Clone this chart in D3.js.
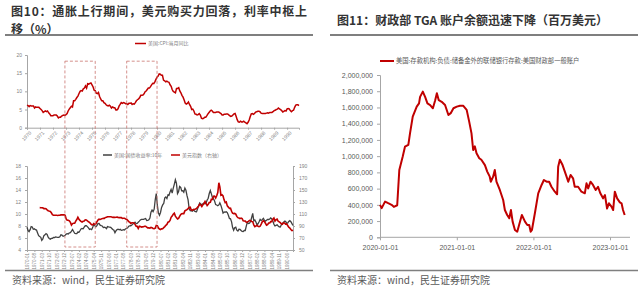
<!DOCTYPE html>
<html>
<head>
<meta charset="utf-8">
<script src="https://cdn.jsdelivr.net/npm/d3@7"></script>
<style>
body { margin: 0; background: #fff; }
svg { display: block; font-family: "Noto Sans CJK SC", "Noto Sans", sans-serif; }
</style>
</head>
<body>
<svg width="640" height="290"></svg>
<script>
/* 图10 上：美国 CPI 当月同比（月度，1970-01 起） */
const cpiStart = "1970-01";
const cpiYoy = [
  6.2,6.1,5.8,6.1,6.0,6.0,6.0,5.4,5.7,5.6,5.6,5.6,
  5.3,5.0,4.7,4.2,4.4,4.6,4.4,4.6,4.1,3.8,3.3,3.3,
  3.3,3.5,3.5,3.5,3.2,2.7,2.9,2.9,3.2,3.4,3.5,3.4,
  3.6,3.9,4.6,5.1,5.5,5.9,5.7,7.4,7.4,7.8,8.3,8.7,
  9.4,10.0,10.2,10.1,10.7,10.9,11.5,10.9,12.1,12.0,12.2,12.3,
  11.8,11.2,10.3,10.2,9.5,9.4,9.7,8.6,7.9,7.4,7.4,6.9,
  6.7,6.3,6.1,6.0,6.2,5.9,5.4,5.7,5.5,5.5,4.9,4.9,
  5.2,6.0,6.4,6.9,6.7,6.9,6.8,6.6,6.6,6.4,6.7,6.7,
  6.8,6.4,6.6,6.5,6.9,7.4,7.7,7.9,8.3,8.9,8.9,9.0,
  9.3,9.9,10.1,10.5,10.9,10.9,11.3,11.8,12.2,12.1,12.6,13.3,
  13.9,14.2,14.8,14.7,14.4,14.4,13.1,12.9,12.6,12.8,12.6,12.5,
  11.8,11.4,10.5,10.0,9.8,9.6,10.8,10.8,11.0,10.1,9.6,8.9,
  8.4,7.6,6.8,6.5,6.7,7.1,6.4,5.9,5.0,5.1,4.6,3.8,
  3.7,3.5,3.6,3.9,3.5,2.6,2.5,2.6,2.9,2.9,3.3,3.8,
  4.2,4.6,4.8,4.6,4.2,4.2,4.2,4.3,4.3,4.3,4.1,3.9,
  3.5,3.5,3.7,3.7,3.8,3.8,3.6,3.3,3.1,3.2,3.5,3.8,
  3.9,3.1,2.2,1.6,1.5,1.8,1.6,1.6,1.8,1.5,1.3,1.1,
  1.5,2.1,3.0,3.8,3.9,3.7,3.9,4.3,4.4,4.5,4.5,4.4,
  4.0,3.9,3.9,3.9,3.9,4.0,4.1,4.0,4.2,4.2,4.2,4.4,
  4.7,4.8,5.0,5.1,5.4,5.2,5.0,4.7,4.3,4.5,4.7,4.6,
  5.2,5.3,5.2,4.7,4.4,4.7,4.8,5.6,6.2,6.3,6.3,6.1
];

/* 图10 下：美国国债收益率 10年（月度，1970-01 起） */
const ustStart = "1970-01";
const ust10y = [
  7.79,7.24,7.07,7.39,7.91,7.84,7.46,7.53,7.39,7.33,6.84,6.39,
  6.24,6.11,5.60,5.83,6.39,6.52,6.73,6.58,6.14,5.93,5.81,5.93,
  5.95,6.08,6.07,6.19,6.13,6.11,6.11,6.21,6.55,6.48,6.28,6.36,
  6.46,6.64,6.71,6.67,6.85,6.90,7.13,7.40,7.09,6.79,6.73,6.74,
  6.99,6.96,7.21,7.51,7.58,7.54,7.81,8.04,8.04,7.90,7.68,7.43,
  7.50,7.39,7.73,8.23,8.06,7.86,8.06,8.40,8.43,8.14,8.05,8.00,
  7.74,7.79,7.73,7.56,7.90,7.86,7.83,7.77,7.59,7.41,7.29,6.87,
  7.21,7.39,7.46,7.37,7.46,7.28,7.33,7.40,7.34,7.52,7.58,7.69,
  7.96,8.03,8.04,8.15,8.35,8.46,8.64,8.41,8.42,8.64,8.81,9.01,
  9.10,9.10,9.12,9.18,9.25,8.91,8.95,9.03,9.33,10.30,10.65,10.39,
  10.80,12.41,13.40,11.47,10.18,9.78,10.25,11.10,11.51,11.75,12.68,12.84,
  12.57,13.19,13.12,13.68,14.10,13.47,14.28,14.94,15.70,15.15,13.39,13.72,
  14.59,14.43,13.86,13.87,13.62,14.30,13.95,13.06,12.34,10.91,10.55,10.54,
  10.46,10.72,10.51,10.40,10.38,10.85,11.38,11.85,11.65,11.54,11.69,11.83,
  11.67,11.84,12.32,12.63,13.41,13.90,13.36,12.72,12.52,12.16,11.57,11.50,
  11.38,11.51,11.86,11.43,10.85,10.16,10.31,10.33,10.37,10.24,9.78,9.26,
  9.19,8.70,7.78,7.30,7.71,7.80,7.30,7.17,7.45,7.43,7.25,7.11,
  7.08,7.25,7.25,8.02,8.61,8.40,8.45,8.76,9.42,10.10,8.86,8.99,
  8.67,8.21,8.37,8.72,9.09,8.92,9.06,9.26,8.98,8.80,8.96,9.11,
  9.09,9.17,9.36,9.18,8.86,8.28,8.02,8.11,8.19,8.01,7.87,7.84,
  8.21,8.47,8.59,8.79,8.76,8.48,8.47,8.75,8.89,8.72,8.39,8.08
];

/* 图10 下：美元指数（右轴，月度，1971-01 起） */
const dxyStart = "1971-01";
const dxy = [
  120.6,120.5,120.3,120.2,119.0,118.9,118.7,117.0,115.5,114.8,114.1,112.0,
  108.8,108.0,107.9,107.9,107.8,107.6,107.8,108.0,108.5,108.6,108.6,108.7,
  107.7,101.5,99.6,99.6,98.5,96.0,91.5,94.0,94.5,94.5,98.2,100.7,
  104.5,101.3,99.4,97.6,96.5,97.8,98.3,100.4,100.1,98.7,97.0,96.1,
  94.0,92.0,91.8,94.0,93.0,93.5,97.0,100.0,101.3,100.9,101.5,102.3,
  103.0,102.8,104.3,104.5,105.5,105.3,105.4,105.4,105.0,104.3,104.7,104.2,
  104.5,104.8,104.4,104.0,104.1,104.0,102.7,103.0,103.0,101.8,101.2,99.4,
  97.3,96.4,94.3,95.3,95.5,95.2,92.8,89.6,89.4,86.0,89.5,89.0,
  88.2,88.6,88.7,89.5,89.6,88.3,86.8,86.8,86.4,87.7,87.3,85.9,
  85.5,86.5,91.0,90.5,86.8,85.0,84.2,85.2,85.5,87.2,89.0,91.2,
  92.6,96.3,97.0,99.2,104.5,106.5,109.5,111.3,106.5,104.0,101.6,102.7,
  106.2,109.0,110.5,110.6,110.6,115.2,116.4,117.2,119.0,121.0,121.4,116.5,
  116.4,117.3,117.5,118.2,119.0,121.3,123.4,126.5,125.0,122.5,125.2,127.5,
  131.0,127.5,124.1,126.3,129.1,129.5,134.6,134.3,139.5,139.7,136.6,140.4,
  145.7,162.0,155.0,141.3,142.2,140.1,133.6,128.9,130.0,123.5,121.5,119.3,
  119.6,114.5,111.3,110.6,111.0,109.8,106.0,103.9,103.3,102.3,103.2,102.4,
  98.7,98.3,98.2,96.1,96.7,97.8,99.4,98.8,97.5,97.3,91.9,88.9,
  89.9,91.3,89.6,88.9,89.6,93.2,97.0,98.6,97.4,94.6,91.4,92.2,
  95.0,95.2,97.5,97.3,101.4,103.4,98.3,100.5,101.5,97.9,97.0,95.5,
  93.8,93.0,95.3,95.1,93.2,93.5,90.8,87.9,86.7,84.1,82.5,83.1
];

/* 虚线框标出的两段通胀上行期 */
const upPeriods = [["1972-12", "1975-04"], ["1977-09", "1980-01"]];

/* 图10 刻度 */
const topYearLabels = ["1970","1971","1972","1973","1974","1975","1976","1977","1978","1979",
  "1980","1981","1982","1983","1984","1985","1986","1987","1988","1989","1990"];
const topYTicks = [0, 5, 10, 15, 20];
const bottomMonthLabels = ["1970-01","1970-08","1971-03","1971-10","1972-05","1972-12","1973-07",
  "1974-02","1974-09","1975-04","1975-11","1976-06","1977-01","1977-08","1978-03","1978-10",
  "1979-05","1979-12","1980-07","1981-02","1981-09","1982-04","1982-11","1983-06","1984-01",
  "1984-08","1985-03","1985-10","1986-05","1986-12","1987-07","1988-02","1988-09","1989-04",
  "1989-11","1990-06"];
const leftYTicks = [4, 6, 8, 10, 12, 14, 16, 18];
const rightYTicks = [50, 70, 90, 110, 130, 150, 170, 190];

/* 图11：TGA 账户余额（百万美元） */
const tgaDates = [
  "2020-01-01","2020-01-09","2020-01-25","2020-02-09","2020-02-25","2020-03-07","2020-03-23",
  "2020-04-02","2020-04-18","2020-04-29","2020-05-15","2020-05-23","2020-06-05","2020-06-24",
  "2020-07-05","2020-07-10","2020-07-23","2020-08-03","2020-08-14","2020-08-27","2020-09-09",
  "2020-09-20","2020-09-28","2020-10-07","2020-10-21","2020-11-06","2020-11-22","2020-12-03",
  "2020-12-16","2021-01-01","2021-01-16","2021-02-01","2021-02-17","2021-03-01","2021-03-12",
  "2021-03-20","2021-03-28","2021-04-05","2021-04-18","2021-04-28","2021-05-15","2021-05-26",
  "2021-06-07","2021-06-12","2021-06-23","2021-07-01","2021-07-09","2021-07-25","2021-08-10",
  "2021-08-18","2021-08-29","2021-09-08","2021-09-16","2021-09-24","2021-10-05","2021-10-16",
  "2021-10-29","2021-11-07","2021-11-22","2021-12-03","2021-12-12","2021-12-19","2021-12-25",
  "2022-01-08","2022-01-24","2022-02-09","2022-02-20","2022-03-05","2022-03-17","2022-03-28",
  "2022-04-13","2022-04-24","2022-04-29","2022-05-07","2022-05-20","2022-06-08","2022-06-16",
  "2022-06-27","2022-07-09","2022-07-17","2022-08-02","2022-08-18","2022-09-03","2022-09-11",
  "2022-09-19","2022-09-30","2022-10-12","2022-10-25","2022-11-05","2022-11-16","2022-11-29",
  "2022-12-08","2022-12-18","2022-12-27","2023-01-08","2023-01-16","2023-01-24","2023-02-04",
  "2023-02-17","2023-02-25","2023-03-04","2023-03-12"
];
const tgaValues = [
  400000,360000,440000,420000,400000,375000,395000,
  830000,993000,1117000,1140000,1280000,1486000,1610000,
  1650000,1730000,1795000,1730000,1650000,1630000,1590000,
  1690000,1775000,1690000,1670000,1630000,1507000,1530000,
  1590000,1610000,1620000,1620000,1570000,1425000,1280000,
  1076000,1120000,1035000,975000,955000,890000,810000,
  747000,685000,747000,830000,685000,583000,460000,
  336000,275000,234000,336000,193000,90000,69000,
  193000,275000,193000,152000,152000,69000,90000,
  296000,542000,645000,706000,685000,685000,623000,
  562000,530000,870000,955000,890000,747000,685000,
  768000,727000,623000,623000,562000,542000,665000,
  603000,685000,645000,583000,623000,542000,480000,
  520000,355000,419000,378000,336000,562000,480000,
  430000,419000,336000,275000
];
const tgaYTicks = [0,200000,400000,600000,800000,1000000,1200000,1400000,1600000,1800000,2000000];
const tgaXLabels = ["2020-01-01","2021-01-01","2022-01-01","2023-01-01"];

const red = "#c00000";
const darkGray = "#404040";
const labelGray = "#7f7f7f";

const svg = d3.select("svg");
const parseMonth = d3.timeParse("%Y-%m");
const parseDay = d3.timeParse("%Y-%m-%d");
const parseYear = d3.timeParse("%Y");

function monthly(start, values) {
  const s = parseMonth(start);
  return values.map((v, i) => ({ date: d3.timeMonth.offset(s, i), value: v }));
}

function styleAxis(g, size, color) {
  g.select(".domain").attr("stroke", "#a6a6a6");
  g.selectAll(".tick line").attr("stroke", "#a6a6a6");
  g.selectAll(".tick text").attr("fill", color).style("font-size", size + "px")
    .style("font-family", "Arial, 'Liberation Sans', sans-serif");
}

/* ---------- titles, rules, footers ---------- */
svg.append("text").attr("x", 11).attr("y", 16)
  .attr("fill", "#333").style("font-size", "12px").style("font-weight", "bold")
  .attr("textLength", 296).attr("lengthAdjust", "spacing")
  .text("图10：通胀上行期间，美元购买力回落，利率中枢上");
svg.append("text").attr("x", 11).attr("y", 33.6)
  .attr("fill", "#333").style("font-size", "12px").style("font-weight", "bold")
  .text("移（%）");

svg.append("text").attr("x", 337).attr("y", 25)
  .attr("fill", "#333").style("font-size", "12px").style("font-weight", "bold")
  .text("图11：财政部 TGA 账户余额迅速下降（百万美元）");

[[5, 313], [330, 638]].forEach(function(seg) {
  svg.append("line").attr("x1", seg[0]).attr("x2", seg[1]).attr("y1", 35).attr("y2", 35)
    .attr("stroke", "#7f7f7f").attr("stroke-width", 2);
  svg.append("line").attr("x1", seg[0]).attr("x2", seg[1]).attr("y1", 270.5).attr("y2", 270.5)
    .attr("stroke", "#7f7f7f").attr("stroke-width", 1.5);
});
svg.append("text").attr("x", 12).attr("y", 284).attr("fill", "#595959")
  .style("font-size", "10px").text("资料来源：wind，民生证券研究院");
svg.append("text").attr("x", 337).attr("y", 284).attr("fill", "#595959")
  .style("font-size", "10px").text("资料来源：wind，民生证券研究院");

/* ---------- 图10 上：CPI ---------- */
const cpiData = monthly(cpiStart, cpiYoy);
const xTop = d3.scaleTime().domain([parseMonth("1970-01"), parseMonth("1990-12")]).range([27, 299]);
const yTop = d3.scaleLinear().domain([0, 20]).range([127.7, 55]);

svg.append("g").attr("transform", "translate(27,0)")
  .call(d3.axisLeft(yTop).tickValues(topYTicks).tickSize(2).tickPadding(3))
  .call(g => styleAxis(g, 5, labelGray));

svg.append("g").attr("transform", "translate(0,127.7)")
  .call(d3.axisBottom(xTop).tickValues(topYearLabels.map(parseYear)).tickSize(2)
    .tickFormat(d3.timeFormat("%Y")))
  .call(g => styleAxis(g, 5, labelGray))
  .call(g => g.selectAll(".tick text").attr("text-anchor", "end")
    .attr("transform", "rotate(-45)").attr("dx", "-1").attr("dy", "4").attr("y", 3));

svg.append("path").datum(cpiData)
  .attr("fill", "none").attr("stroke", red).attr("stroke-width", 1.5)
  .attr("d", d3.line().x(d => xTop(d.date)).y(d => yTop(d.value)));

svg.append("line").attr("x1", 135).attr("x2", 146).attr("y1", 43.5).attr("y2", 43.5)
  .attr("stroke", red).attr("stroke-width", 1.5);
svg.append("text").attr("x", 148).attr("y", 45.3).attr("fill", labelGray)
  .style("font-size", "5px").text("美国:CPI:当月同比");

/* ---------- 图10 下：10Y & 美元指数 ---------- */
const ustData = monthly(ustStart, ust10y);
const dxyData = monthly(dxyStart, dxy);
const xBot = d3.scaleTime().domain([parseMonth("1970-01"), parseMonth("1990-12")]).range([27, 293]);
const yLeft = d3.scaleLinear().domain([4, 18]).range([250, 166]);
const yRight = d3.scaleLinear().domain([50, 190]).range([250, 166]);

svg.append("g").attr("transform", "translate(27,0)")
  .call(d3.axisLeft(yLeft).tickValues(leftYTicks).tickSize(2).tickPadding(4))
  .call(g => styleAxis(g, 5, labelGray));
svg.append("g").attr("transform", "translate(293,0)")
  .call(d3.axisRight(yRight).tickValues(rightYTicks).tickSize(2).tickPadding(4))
  .call(g => styleAxis(g, 5, labelGray));
svg.append("g").attr("transform", "translate(0,250)")
  .call(d3.axisBottom(xBot).tickValues(bottomMonthLabels.map(parseMonth)).tickSize(2)
    .tickFormat(d3.timeFormat("%Y-%m")))
  .call(g => styleAxis(g, 4.5, labelGray))
  .call(g => g.selectAll(".tick text").attr("text-anchor", "end")
    .attr("transform", "rotate(-90)").attr("x", -3).attr("y", 0).attr("dy", "0.35em"));

svg.append("path").datum(ustData)
  .attr("fill", "none").attr("stroke", darkGray).attr("stroke-width", 1.3)
  .attr("d", d3.line().x(d => xBot(d.date)).y(d => yLeft(d.value)));
svg.append("path").datum(dxyData)
  .attr("fill", "none").attr("stroke", red).attr("stroke-width", 1.6)
  .attr("d", d3.line().x(d => xBot(d.date)).y(d => yRight(d.value)));

svg.append("line").attr("x1", 103).attr("x2", 112).attr("y1", 155).attr("y2", 155)
  .attr("stroke", darkGray).attr("stroke-width", 1.5);
svg.append("text").attr("x", 114).attr("y", 156.8).attr("fill", labelGray)
  .style("font-size", "5px").text("美国:国债收益率:10年");
svg.append("line").attr("x1", 171).attr("x2", 180).attr("y1", 155).attr("y2", 155)
  .attr("stroke", red).attr("stroke-width", 1.5);
svg.append("text").attr("x", 182).attr("y", 156.8).attr("fill", labelGray)
  .style("font-size", "5px").text("美元指数（右轴）");

/* 通胀上行期虚线框 */
svg.selectAll(".period").data(upPeriods).enter().append("rect")
  .attr("class", "period")
  .attr("x", d => xTop(parseMonth(d[0])))
  .attr("width", d => xTop(parseMonth(d[1])) - xTop(parseMonth(d[0])))
  .attr("y", yTop(18.3))
  .attr("height", yLeft(4.5) - yTop(18.3))
  .attr("fill", "none").attr("stroke", "#c9736f").attr("stroke-width", 0.8)
  .attr("stroke-dasharray", "3,2");

/* ---------- 图11：TGA ---------- */
const tgaData = tgaDates.map((d, i) => ({ date: parseDay(d), value: tgaValues[i] }));
const xTga = d3.scaleTime().domain([parseDay("2020-01-01"), parseDay("2023-01-01")]).range([380, 610]);
const yTga = d3.scaleLinear().domain([0, 2000000]).range([237.3, 75]);

svg.append("g").attr("transform", "translate(380,0)")
  .call(d3.axisLeft(yTga).tickValues(tgaYTicks).tickSize(3).tickPadding(4).tickFormat(d3.format(",")))
  .call(g => styleAxis(g, 7, "#595959"));
svg.append("g").attr("transform", "translate(0,237.3)")
  .call(d3.axisBottom(xTga).tickValues(tgaXLabels.map(parseDay)).tickSize(3).tickPadding(5)
    .tickFormat(d3.timeFormat("%Y-%m-%d")))
  .call(g => styleAxis(g, 7, "#595959"))
  .call(g => g.select(".domain").attr("d", "M380,0H630"));

svg.append("path").datum(tgaData)
  .attr("fill", "none").attr("stroke", red).attr("stroke-width", 2)
  .attr("stroke-linejoin", "round")
  .attr("d", d3.line().x(d => xTga(d.date)).y(d => yTga(d.value)));

svg.append("line").attr("x1", 380).attr("x2", 394).attr("y1", 61).attr("y2", 61)
  .attr("stroke", red).attr("stroke-width", 2);
svg.append("text").attr("x", 396).attr("y", 63.3).attr("fill", "#595959")
  .style("font-size", "6.3px").text("美国:存款机构:负债:储备金外的联储银行存款:美国财政部一般账户");
</script>
</body>
</html>
